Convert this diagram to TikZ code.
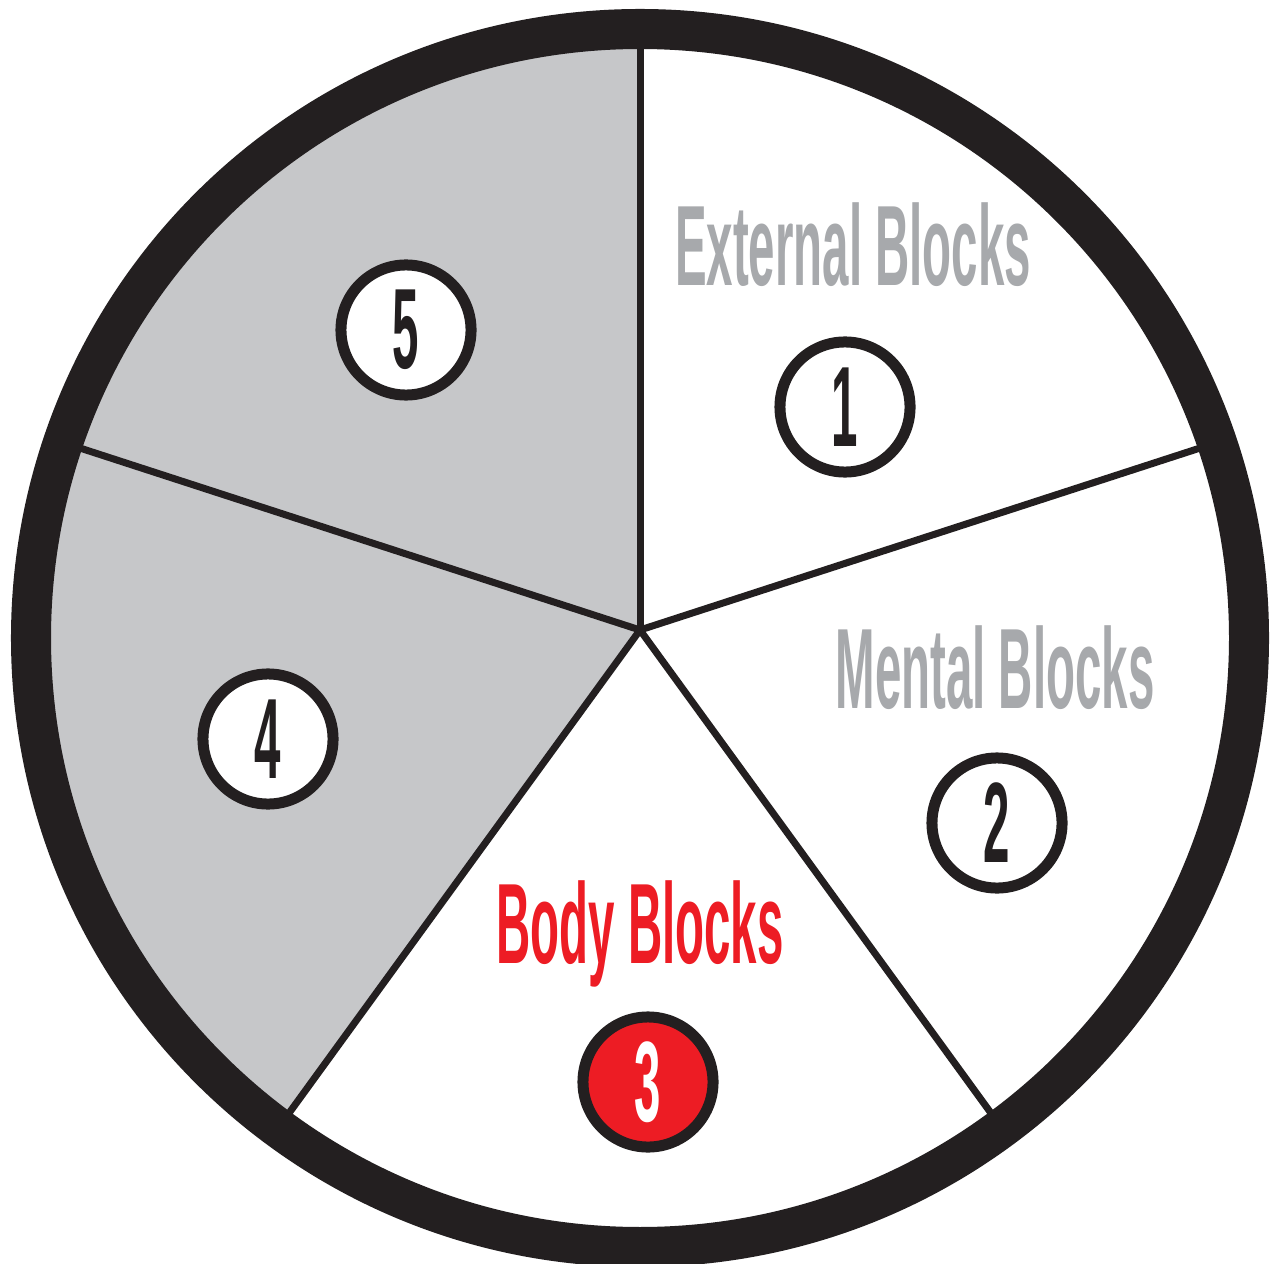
\documentclass[tikz,border=0pt]{standalone}
\usepackage{fontspec}
\newfontfamily\condfont[FakeStretch=0.415]{Liberation Sans}
\definecolor{ringblack}{HTML}{231F20}
\definecolor{sectorgray}{HTML}{C6C7C9}
\definecolor{labelgray}{HTML}{A7A9AC}
\definecolor{blockred}{HTML}{ED1C24}
\tikzset{
  lbl/.style={inner sep=0pt, anchor=base, font=\condfont\bfseries\fontsize{32.5pt}{36pt}\selectfont},
  numc/.style={circle, draw=ringblack, line width=0.11cm, fill=white, minimum size=1.3cm, inner sep=0pt,
     font=\condfont\bfseries\fontsize{32.5pt}{36pt}\selectfont, text=ringblack},
  spoke/.style={draw=ringblack, line width=0.07cm},
}
\begin{document}
\begin{tikzpicture}[x=0.01cm,y=-0.01cm]
\useasboundingbox (0,0) rectangle (1270,1264);
\fill[white] (0,0) rectangle (1270,1264);
% centre of spokes and ends
\coordinate (C) at (640,630);
\coordinate (sT) at (640,10);
\coordinate (sR) at (1229.7,438.4);
\coordinate (sBR) at (1004.4,1131.6);
\coordinate (sBL) at (275.6,1131.6);
\coordinate (sL) at (50.3,438.4);
% gray sectors
\begin{scope}
  \clip (640,638) circle (600);
  \fill[sectorgray] (C) -- (640,-400) -- (-400,-400) -- (-400,1500) -- (-7,1520) -- cycle;
\end{scope}
% spokes
\draw[spoke] (C) -- (sT);
\draw[spoke] (C) -- (sR);
\draw[spoke] (C) -- (sBR);
\draw[spoke] (C) -- (sBL);
\draw[spoke] (C) -- (sL);
% ring
\draw[ringblack, line width=0.4cm] (640,638) circle (609);
% numbered circles
\node[numc] (n1) at (845,407) {1};
\node[numc] (n2) at (997,823) {2};
\node[numc, fill=blockred, text=white] (n3) at (648,1082) {3};
\node[numc] (n4) at (268,739) {4};
\node[numc] (n5) at (406,330) {5};
% labels
\node[lbl, text=labelgray] (ext) at (853,286) {External Blocks};
\node[lbl, text=labelgray] (men) at (995,708) {Mental Blocks};
\node[lbl, text=blockred] (body) at (640,963) {Body Blocks};
\end{tikzpicture}
\end{document}
